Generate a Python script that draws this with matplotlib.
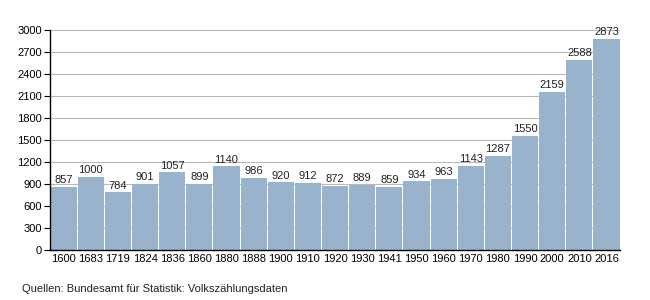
import matplotlib
matplotlib.use("Agg")
import matplotlib.pyplot as plt
import numpy as np

# Einwohnerentwicklung
years = ["1600", "1683", "1719", "1824", "1836", "1860", "1880", "1888", "1900", "1910",
         "1920", "1930", "1941", "1950", "1960", "1970", "1980", "1990", "2000", "2010", "2016"]
population = [857, 1000, 784, 901, 1057, 899, 1140, 986, 920, 912,
              872, 889, 859, 934, 963, 1143, 1287, 1550, 2159, 2588, 2873]
y_ticks = list(range(0, 3001, 300))
source = "Quellen: Bundesamt für Statistik: Volkszählungsdaten"

plt.rcParams["font.family"] = ["Liberation Sans", "DejaVu Sans"]

fig = plt.figure(figsize=(6.5, 3.0), dpi=100)
ax = fig.add_axes([0.077, 0.167, 0.877, 0.733])

x = np.arange(len(years))
ax.bar(x, population, width=0.96, color="#9AB3CD", zorder=2)

# Werte über den Balken
for xi, v in zip(x, population):
    ax.text(xi, v + 25, str(v), ha="center", va="bottom", fontsize=8, color="#222222", zorder=3)

ax.set_xlim(-0.5, len(years) - 0.5)
ax.set_ylim(0, 3000)
ax.set_yticks(y_ticks)
ax.set_xticks(x)
ax.set_xticklabels(years)
ax.tick_params(axis="x", length=0, labelsize=8, pad=3)
ax.tick_params(axis="y", length=4, width=0.8, labelsize=8, pad=2)
ax.yaxis.grid(True, color="#b8b8b8", linewidth=0.8, zorder=0)
ax.set_axisbelow(True)

for side in ["top", "right"]:
    ax.spines[side].set_visible(False)
ax.spines["left"].set_linewidth(1.0)
ax.spines["bottom"].set_linewidth(1.0)

fig.text(0.034, 0.035, source, fontsize=8, color="#222222", ha="left", va="center")

fig.savefig("out.png", dpi=100)
